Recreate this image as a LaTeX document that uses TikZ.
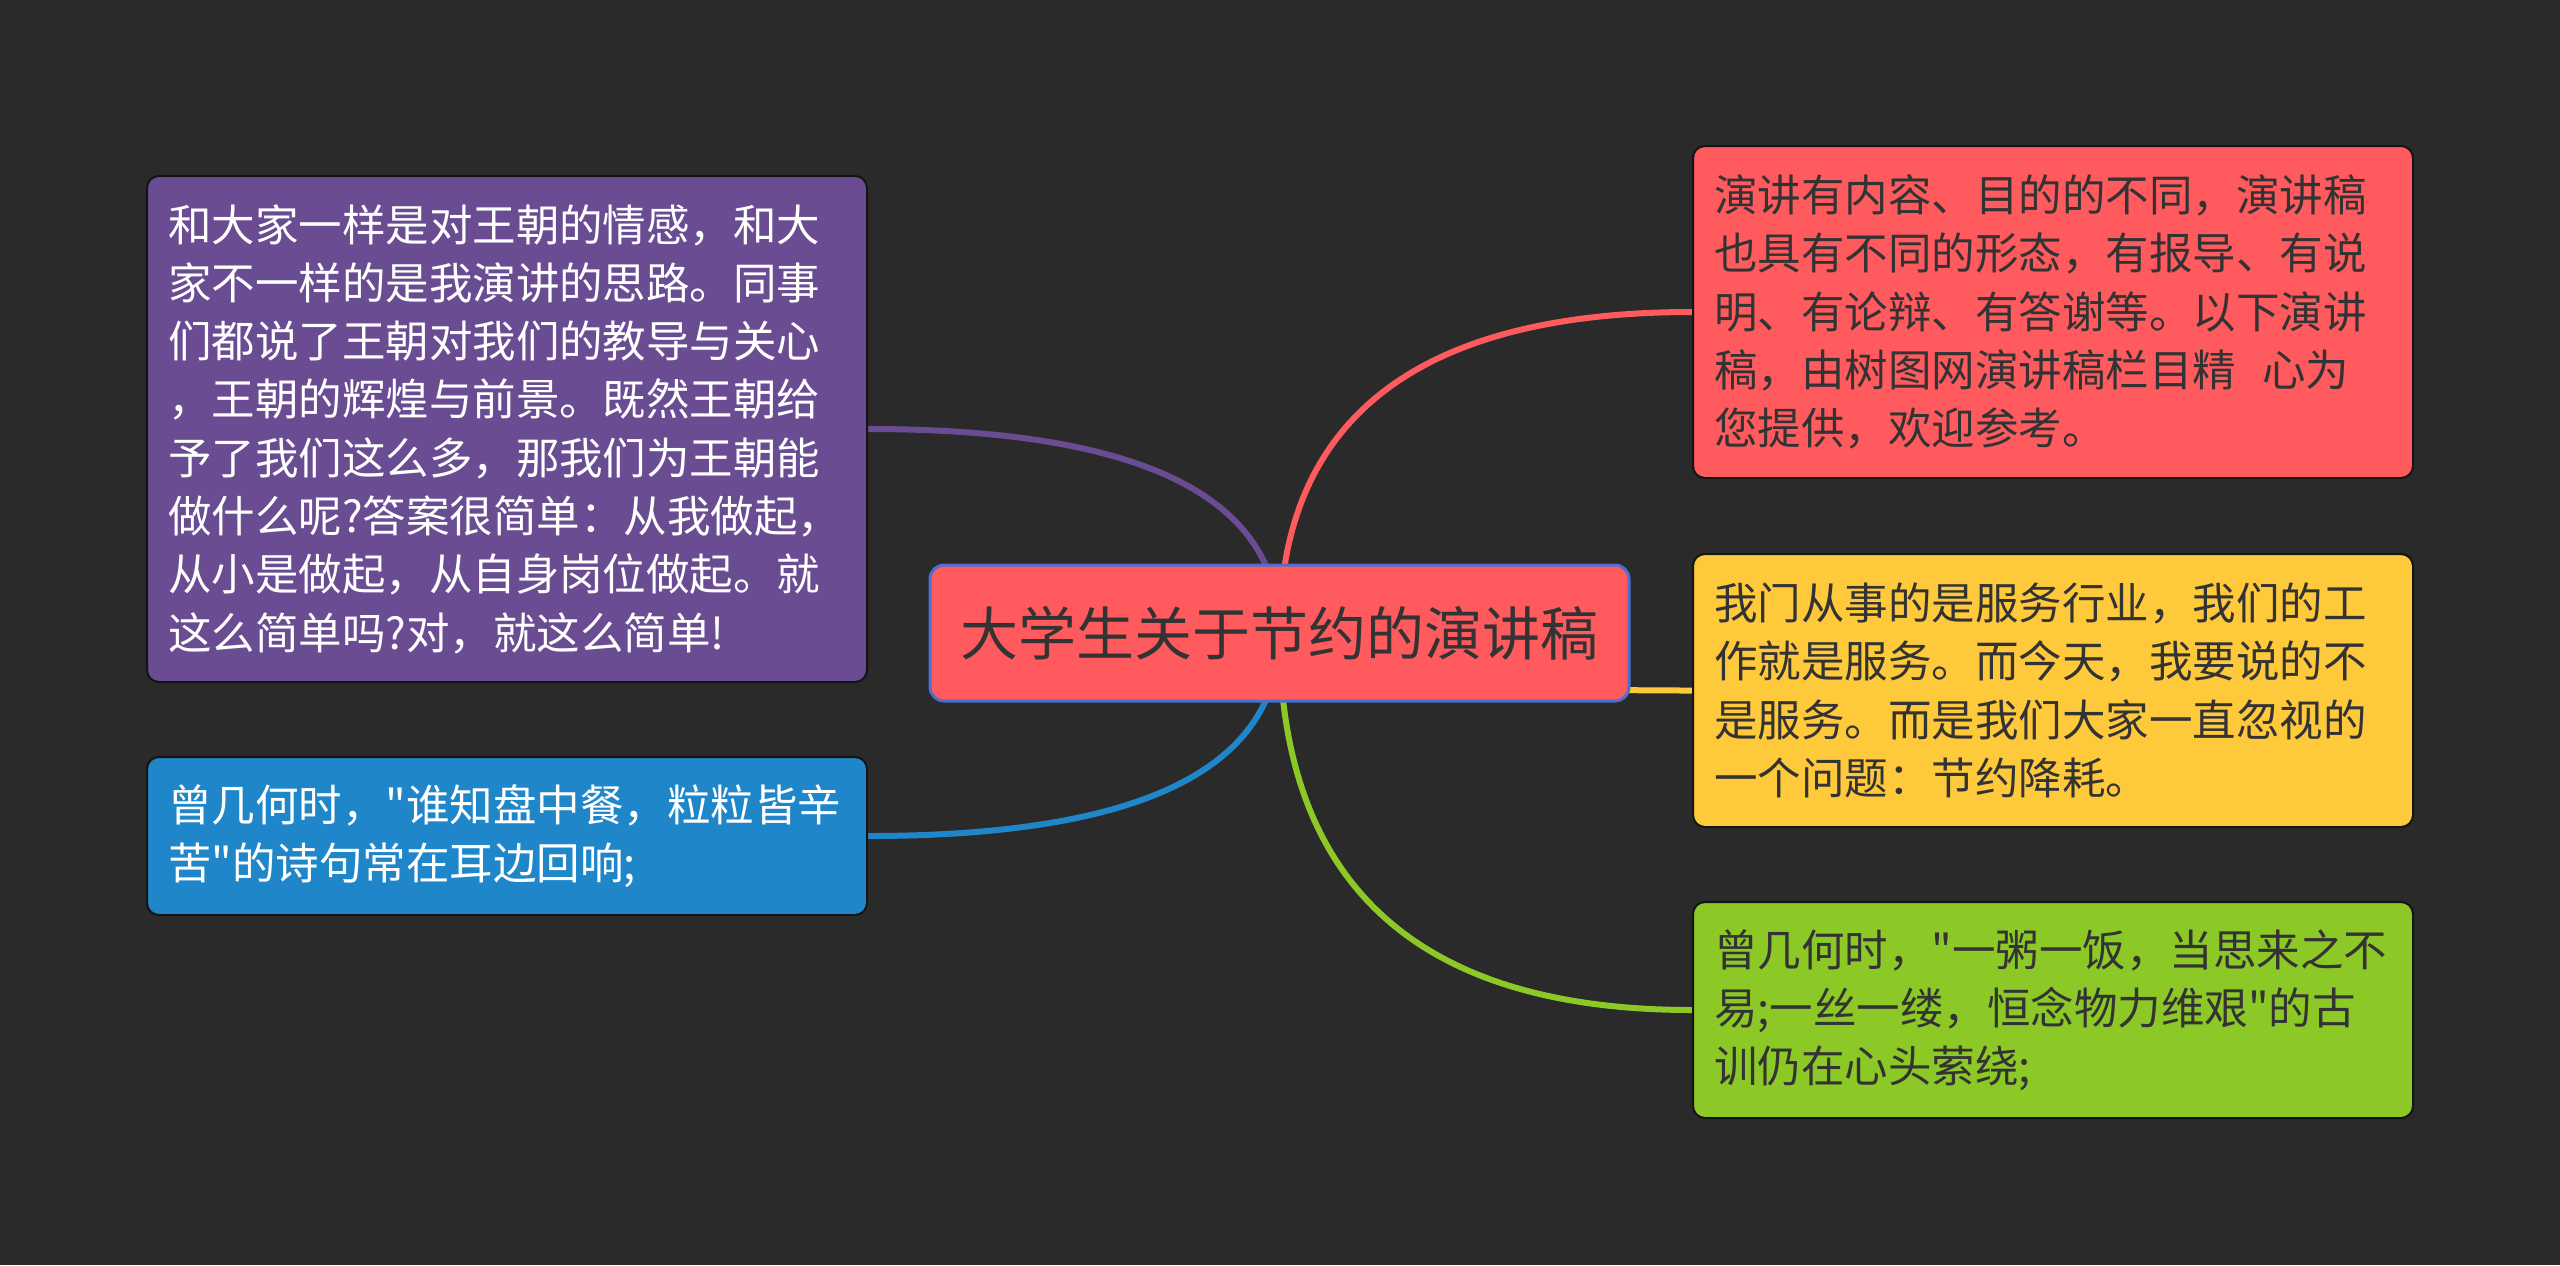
\documentclass[tikz,border=0pt]{standalone}
\usepackage{fontspec}
\setmainfont{Noto Sans CJK SC}
\newfontfamily\cjkfont{Noto Sans CJK SC}
\usetikzlibrary{calc}
\pgfdeclarelayer{bglayer}
\pgfdeclarelayer{connlayer}
\pgfsetlayers{bglayer,connlayer,main}
\definecolor{bgc}{HTML}{2A2A2A}
\definecolor{purc}{HTML}{6A4C93}
\definecolor{bluc}{HTML}{1F87C9}
\definecolor{redc}{HTML}{FF5A5E}
\definecolor{yelc}{HTML}{FFC93C}
\definecolor{grnc}{HTML}{8CC927}
\definecolor{rootborder}{HTML}{4C6FD0}
\definecolor{darktext}{HTML}{333333}
\definecolor{boxline}{HTML}{141414}
\begin{document}
\begin{tikzpicture}[x=0.5pt,y=-0.5pt,
  leaf/.style={rounded corners=6pt, draw=boxline, line width=1pt,
    text width=339pt, inner xsep=10.5pt, inner ysep=0pt, align=left,
    font=\cjkfont\fontsize{21.75pt}{29.15pt}\selectfont},
  rootbox/.style={rounded corners=7pt, draw=rootborder, line width=1.5pt,
    fill=redc, text=darktext, minimum width=349.5pt, minimum height=68pt,
    inner sep=0pt, font=\cjkfont\fontsize{29pt}{35pt}\selectfont},
  conn/.style={line width=3pt}]
\begin{pgfonlayer}{bglayer}
\fill[bgc] (0,0) rectangle (2560,1265);
\end{pgfonlayer}
\useasboundingbox (0,0) rectangle (2560,1265);

\node[rootbox] (root) at (1279.5,633) {大学生关于节约的演讲稿};

\node[leaf, fill=purc, text=white, minimum height=253pt] (pur) at (507,429) {和大家一样是对王朝的情感，和大\\家不一样的是我演讲的思路。同事\\们都说了王朝对我们的教导与关心\\，王朝的辉煌与前景。既然王朝给\\予了我们这么多，那我们为王朝能\\做什么呢?答案很简单：从我做起，\\从小是做起，从自身岗位做起。就\\这么简单吗?对，就这么简单!};

\node[leaf, fill=bluc, text=white, minimum height=79pt] (blu) at (507,836) {曾几何时，"谁知盘中餐，粒粒皆辛\\苦"的诗句常在耳边回响;};

\node[leaf, fill=redc, text=darktext, minimum height=166pt] (red) at (2053,312) {演讲有内容、目的的不同，演讲稿\\也具有不同的形态，有报导、有说\\明、有论辩、有答谢等。以下演讲\\稿，由树图网演讲稿栏目精\hspace{0.6em}心为\\您提供，欢迎参考。};

\node[leaf, fill=yelc, text=darktext, minimum height=136.5pt] (yel) at (2053,690.5) {我门从事的是服务行业，我们的工\\作就是服务。而今天，我要说的不\\是服务。而是我们大家一直忽视的\\一个问题：节约降耗。};

\node[leaf, fill=grnc, text=darktext, minimum height=108pt] (grn) at (2053,1010) {曾几何时，"一粥一饭，当思来之不\\易;一丝一缕，恒念物力维艰"的古\\训仍在心头萦绕;};

\begin{pgfonlayer}{connlayer}
\draw[conn, purc] (root.center) .. controls ($(root.center)!0.6667!(root.center |- pur.east)$) and ($(pur.east)!0.6667!(root.center |- pur.east)$) .. (pur.east);
\draw[conn, bluc] (root.center) .. controls ($(root.center)!0.6667!(root.center |- blu.east)$) and ($(blu.east)!0.6667!(root.center |- blu.east)$) .. (blu.east);
\draw[conn, redc] (root.center) .. controls ($(root.center)!0.6667!(root.center |- red.west)$) and ($(red.west)!0.6667!(root.center |- red.west)$) .. (red.west);
\draw[conn, yelc] (root.center) .. controls ($(root.center)!0.6667!(root.center |- yel.west)$) and ($(yel.west)!0.6667!(root.center |- yel.west)$) .. (yel.west);
\draw[conn, grnc] (root.center) .. controls ($(root.center)!0.6667!(root.center |- grn.west)$) and ($(grn.west)!0.6667!(root.center |- grn.west)$) .. (grn.west);
\end{pgfonlayer}
\end{tikzpicture}
\end{document}
